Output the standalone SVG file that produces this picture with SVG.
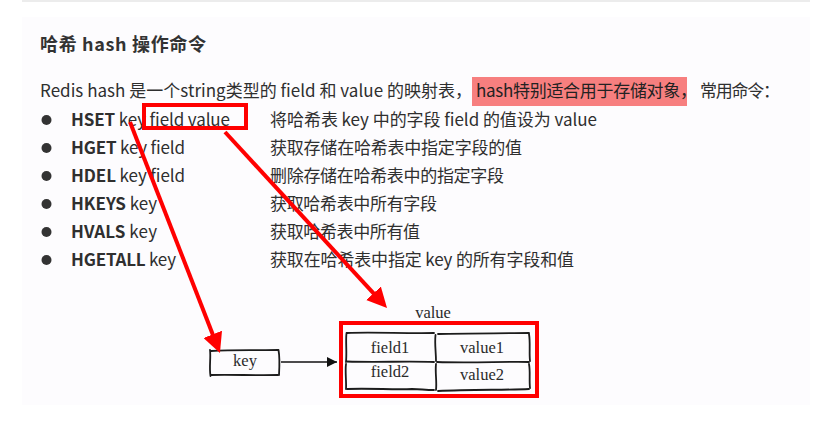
<svg xmlns="http://www.w3.org/2000/svg" width="830" height="422" viewBox="0 0 830 422">
<style>
.t{font-family:"Noto Sans CJK SC","Noto Sans",sans-serif;fill:#2f2f2f;font-size:17px}
.b{font-weight:bold}
.h{font-family:"Noto Sans CJK SC","Noto Sans",sans-serif;fill:#333;font-size:18px;font-weight:bold}
.s{font-family:"Liberation Serif","DejaVu Serif",serif;fill:#2a2a2a;font-size:16.5px;text-anchor:middle}
.sk{fill:none;stroke:#1c1c1c;stroke-width:1.8;stroke-linecap:round}
.red{fill:none;stroke:#f00;stroke-width:4}
</style>
<defs>
<marker id="ra" markerUnits="userSpaceOnUse" markerWidth="22" markerHeight="20" refX="8" refY="10" orient="auto">
<path d="M0,0 L20,10 L0,20 Z" fill="#f00"/>
</marker>
<marker id="ba" markerUnits="userSpaceOnUse" markerWidth="12" markerHeight="10" refX="10" refY="5" orient="auto">
<path d="M0,0 L10,5 L0,10 Z" fill="#111"/>
</marker>
</defs>
<rect width="830" height="422" fill="#fff"/>
<line x1="22" y1="1" x2="810" y2="1" stroke="#e6e6e6" stroke-width="1.5"/>
<rect x="22" y="17" width="788" height="388" fill="#fdfcfe"/>

<g id="title"><text class="h" x="40" y="51" textLength="166">哈希 hash 操作命令</text></g>

<g id="intro">
<text class="t" x="40" y="97" textLength="432">Redis hash 是一个string类型的 field 和 value 的映射表，</text>
<rect x="472" y="77" width="215" height="29" fill="#f77f7f"/>
<text class="t" x="476" y="97" textLength="221" style="fill:#222">hash特别适合用于存储对象，</text>
<text class="t" x="700" y="97" textLength="80">常用命令：</text>
</g>

<g id="commands">
<circle cx="46.5" cy="120" r="5" fill="#333"/>
<circle cx="46.5" cy="148" r="5" fill="#333"/>
<circle cx="46.5" cy="176" r="5" fill="#333"/>
<circle cx="46.5" cy="204" r="5" fill="#333"/>
<circle cx="46.5" cy="232" r="5" fill="#333"/>
<circle cx="46.5" cy="260" r="5" fill="#333"/>
<text class="t" x="71" y="126" textLength="159"><tspan class="b">HSET</tspan> key field value</text>
<text class="t" x="71" y="154" textLength="114"><tspan class="b">HGET</tspan> key field</text>
<text class="t" x="71" y="182" textLength="114"><tspan class="b">HDEL</tspan> key field</text>
<text class="t" x="71" y="210" textLength="86"><tspan class="b">HKEYS</tspan> key</text>
<text class="t" x="71" y="238" textLength="86"><tspan class="b">HVALS</tspan> key</text>
<text class="t" x="71" y="266" textLength="105"><tspan class="b">HGETALL</tspan> key</text>
<text class="t" x="270" y="126" textLength="327">将哈希表 key 中的字段 field 的值设为 value</text>
<text class="t" x="270" y="154" textLength="252">获取存储在哈希表中指定字段的值</text>
<text class="t" x="270" y="182" textLength="234">删除存储在哈希表中的指定字段</text>
<text class="t" x="270" y="210" textLength="167">获取哈希表中所有字段</text>
<text class="t" x="270" y="238" textLength="150">获取哈希表中所有值</text>
<text class="t" x="270" y="266" textLength="304">获取在哈希表中指定 key 的所有字段和值</text>
</g>

<g id="highlight-box"><rect class="red" x="144" y="105" width="102" height="23" stroke-width="3"/></g>

<g id="key">
<path class="sk" d="M211,351 C235,349.5 258,350.5 278,350"/>
<path class="sk" d="M278.5,350 C280,358 279.5,366 279,375"/>
<path class="sk" d="M278,375 C255,375.5 232,374.5 211,375"/>
<path class="sk" d="M210.5,376 C209,367 211,358 210,350"/>
<text class="s" x="245" y="366">key</text>
</g>

<g id="value">
<text class="s" x="433" y="318">value</text>
<rect class="red" x="341" y="323" width="196" height="73"/>
<path class="sk" d="M347,333 C370,332 405,333.5 434,333"/>
<path class="sk" d="M438,334 C470,333 500,333.5 529,333"/>
<path class="sk" d="M346.5,333 C345.5,342 347,352 346,362"/>
<path class="sk" d="M346,364 C345,372 346.5,381 346,389"/>
<path class="sk" d="M435.5,335 C434.5,344 436,352 436,361"/>
<path class="sk" d="M436,364 C435,373 437,381 436,390"/>
<path class="sk" d="M529,334 C530.5,343 529,352 530,361"/>
<path class="sk" d="M529,364 C530.5,372 529,380 530,388"/>
<path class="sk" d="M347,361.5 C375,362.5 410,361 434,362"/>
<path class="sk" d="M437,362 C470,363 505,361.5 529,362"/>
<path class="sk" d="M347,389 C370,388 395,390 412,389 C420,389 425,390 434,390"/>
<path class="sk" d="M438,391 C470,389.5 505,390 529,389"/>
<text class="s" x="390" y="353">field1</text>
<text class="s" x="482" y="353">value1</text>
<text class="s" x="390" y="377">field2</text>
<text class="s" x="482" y="380">value2</text>
</g>

<g id="connectors">
<line x1="281" y1="362" x2="337" y2="362" stroke="#111" stroke-width="1.4" marker-end="url(#ba)"/>
<line class="red" x1="130" y1="122" x2="215.6" y2="341.8" marker-end="url(#ra)"/>
<line class="red" x1="225" y1="132" x2="378.9" y2="299.2" marker-end="url(#ra)"/>
</g>
</svg>
